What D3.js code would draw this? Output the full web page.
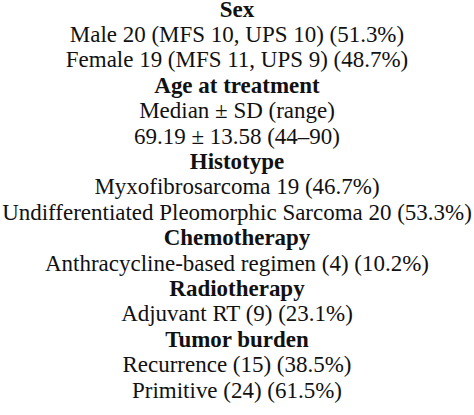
<!DOCTYPE html>
<html><head><meta charset="utf-8">
<script src="https://cdn.jsdelivr.net/npm/d3@7"></script>
<style>body{margin:0;background:#fff}</style></head>
<body><svg id="c" width="474" height="415"></svg>
<script>
const lines = ["Sex","Male 20 (MFS 10, UPS 10) (51.3%)","Female 19 (MFS 11, UPS 9) (48.7%)","Age at treatment","Median \u00b1 SD (range)","69.19 \u00b1 13.58 (44\u201390)","Histotype","Myxofibrosarcoma 19 (46.7%)","Undifferentiated Pleomorphic Sarcoma 20 (53.3%)","Chemotherapy","Anthracycline-based regimen (4) (10.2%)","Radiotherapy","Adjuvant RT (9) (23.1%)","Tumor burden","Recurrence (15) (38.5%)","Primitive (24) (61.5%)"];
const headers = ["Sex","Age at treatment","Histotype","Chemotherapy","Radiotherapy","Tumor burden"];
const svg = d3.select("#c");
const y = d3.scaleLinear().domain([0, lines.length-1]).range([9, 390]);
const t = svg.selectAll("text").data(lines).join("text")
  .attr("x", 237).attr("y", (d,i)=>y(i))
  .attr("text-anchor","middle").attr("dominant-baseline","central")
  .attr("font-family","'Liberation Serif', serif")
  .attr("font-size", 19.5)
  .attr("font-weight", d=>headers.includes(d)?"bold":"normal")
  .attr("fill","#111")
  .text(d=>d);
const w = d3.max(t.nodes(), n=>n.getComputedTextLength());
const fs = 19.5*470/w;
t.attr("font-size", fs);
</script></body></html>
